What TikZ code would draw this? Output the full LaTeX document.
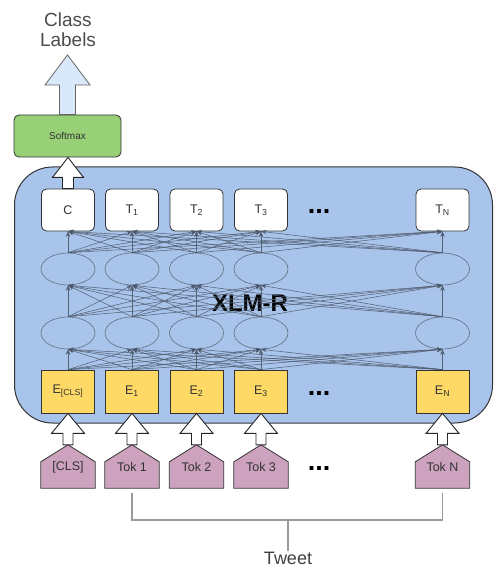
\documentclass[tikz,border=0pt]{standalone}
\usepackage{fontspec}
\setmainfont{Liberation Sans}
\usetikzlibrary{arrows.meta,calc,shapes.geometric}
\definecolor{netblue}{HTML}{A9C4EB}
\definecolor{embyellow}{HTML}{FFD966}
\definecolor{tokpurple}{HTML}{CDA2BE}
\definecolor{smgreen}{HTML}{97D077}
\definecolor{lblblue}{HTML}{DAE8FC}
\definecolor{edgegray}{HTML}{4E5A6C}
\definecolor{ellgray}{HTML}{5F6E82}
\definecolor{txtgray}{HTML}{333333}
\definecolor{brgray}{HTML}{9A9A9A}
\newcommand\hollowup[6]{%
  \path[#6] let \p1=(#1),\p2=(#2) in
    ({\x1-0.5*#3pt},\y1) -- ({\x1-0.5*#3pt},{\y2-#5pt}) -- ({\x1-0.5*#4pt},{\y2-#5pt})
    -- (\x1,\y2) -- ({\x1+0.5*#4pt},{\y2-#5pt}) -- ({\x1+0.5*#3pt},{\y2-#5pt})
    -- ({\x1+0.5*#3pt},\y1) -- cycle;}
\begin{document}
\begin{tikzpicture}[x=1pt,y=-1pt,
  bigbox/.style={draw=black!80, line width=1pt, fill=netblue, rounded corners=38pt,
    minimum width=478pt, minimum height=256pt, inner sep=0pt},
  outbox/.style={draw=black!80, line width=0.8pt, fill=white, rounded corners=5pt,
    minimum width=53pt, minimum height=42pt, inner sep=0pt, font=\fontsize{12.5}{14}\selectfont, text=txtgray},
  embbox/.style={draw=black!80, line width=0.8pt, fill=embyellow,
    minimum width=53pt, minimum height=43pt, inner sep=0pt, font=\fontsize{12.5}{14}\selectfont, text=txtgray},
  hid/.style={ellipse, draw=ellgray, line width=0.6pt, minimum width=54pt, minimum height=32pt, inner sep=0pt},
  tokframe/.style={minimum width=54pt, minimum height=43pt, inner sep=0pt},
  tokshape/.style={draw=black!80, line width=0.8pt, fill=tokpurple},
  toktext/.style={font=\fontsize{12.5}{14}\selectfont, text=txtgray},
  net/.style={draw=edgegray, draw opacity=0.9, line width=0.55pt, -{Stealth[length=5.5pt,width=4.5pt]}},
  holw/.style={draw=black!85, line width=0.9pt, fill=white},
  holb/.style={draw=black!60, line width=0.8pt, fill=lblblue},
  dots/.style={font=\fontsize{27}{28}\selectfont\bfseries, anchor=base, inner sep=0pt},
  brk/.style={draw=brgray, line width=1.6pt}
]
\useasboundingbox (0,0) rectangle (494,569);

\node[bigbox] (xlmr) at (253.5,295) {};
\node[font=\fontsize{24}{26}\selectfont\bfseries] (xlmrlabel) at (250,303) {XLM-R};

\node[draw=black!80, line width=0.8pt, fill=smgreen, rounded corners=5pt, minimum width=107pt,
  minimum height=42pt, font=\fontsize{10}{12}\selectfont, text=txtgray] (softmax) at (67.5,136) {Softmax};
\node[font=\fontsize{19}{22}\selectfont, text=black!70, align=center] (classlbl) at (68,30) {Class\\[-2pt]Labels};
\coordinate (clstip) at (68,55);

% output boxes
\node[outbox] (t1) at (68,210) {C};
\node[outbox] (t2) at (132,210) {T\textsubscript{1}};
\node[outbox] (t3) at (196.5,210) {T\textsubscript{2}};
\node[outbox] (t4) at (261,210) {T\textsubscript{3}};
\node[outbox] (t5) at (442.5,210) {T\textsubscript{N}};

% hidden ellipses
\foreach \i/\x in {1/68,2/132,3/196.5,4/261,5/442.5}{
  \node[hid] (lb\i) at (\x,269) {};
  \node[hid] (la\i) at (\x,333) {};
}

% embeddings
\node[embbox] (e1) at (68,391.5) {E\textsubscript{[CLS]}};
\node[embbox] (e2) at (132,391.5) {E\textsubscript{1}};
\node[embbox] (e3) at (196.5,391.5) {E\textsubscript{2}};
\node[embbox] (e4) at (261,391.5) {E\textsubscript{3}};
\node[embbox] (e5) at (442.5,391.5) {E\textsubscript{N}};

% tokens
\foreach \i/\x/\t in {1/68/[CLS],2/132/Tok 1,3/196.5/Tok 2,4/261/Tok 3,5/442.5/Tok N}{
  \node[tokframe] (k\i) at (\x,466.5) {};
  \path[tokshape] (k\i.south west) -- ($(k\i.north west)+(0,17)$) -- (k\i.north)
     -- ($(k\i.north east)+(0,17)$) -- (k\i.south east) -- cycle;
  \node[toktext] at ($(k\i.center)+(0,1)$) {\t};
}

% dots
\node[dots] (d1) at (319,213) {...};
\node[dots] (d2) at (319,395) {...};
\node[dots] (d3) at (319,470) {...};

% network connections
\foreach \a in {1,...,5}{
  \foreach \b in {1,...,5}{
    \draw[net] (e\a.north) -- (la\b.south);
    \draw[net] (la\a.north) -- (lb\b.south);
    \draw[net] (lb\a.north) -- (t\b.south);
  }
}

% hollow arrows
\foreach \i in {1,...,5}{
  \hollowup{k\i.north}{e\i.south}{10}{33}{20}{holw}
}
\hollowup{t1.north}{softmax.south}{11}{31}{20}{holw}
\hollowup{softmax.north}{clstip}{16}{45}{30}{holb}

% tweet bracket
\coordinate (b1) at ($(k2.south)+(0,5)$);
\coordinate (b2) at ($(k5.south)+(0,5)$);
\coordinate (bm) at (288,520);
\node[font=\fontsize{18}{20}\selectfont, text=black!75, inner sep=1pt] (tweet) at (288,558) {Tweet};
\draw[brk] (b1) -- (b1|-bm) -- (b2|-bm) -- (b2);
\draw[brk] (bm) -- (tweet.north);
\end{tikzpicture}
\end{document}
